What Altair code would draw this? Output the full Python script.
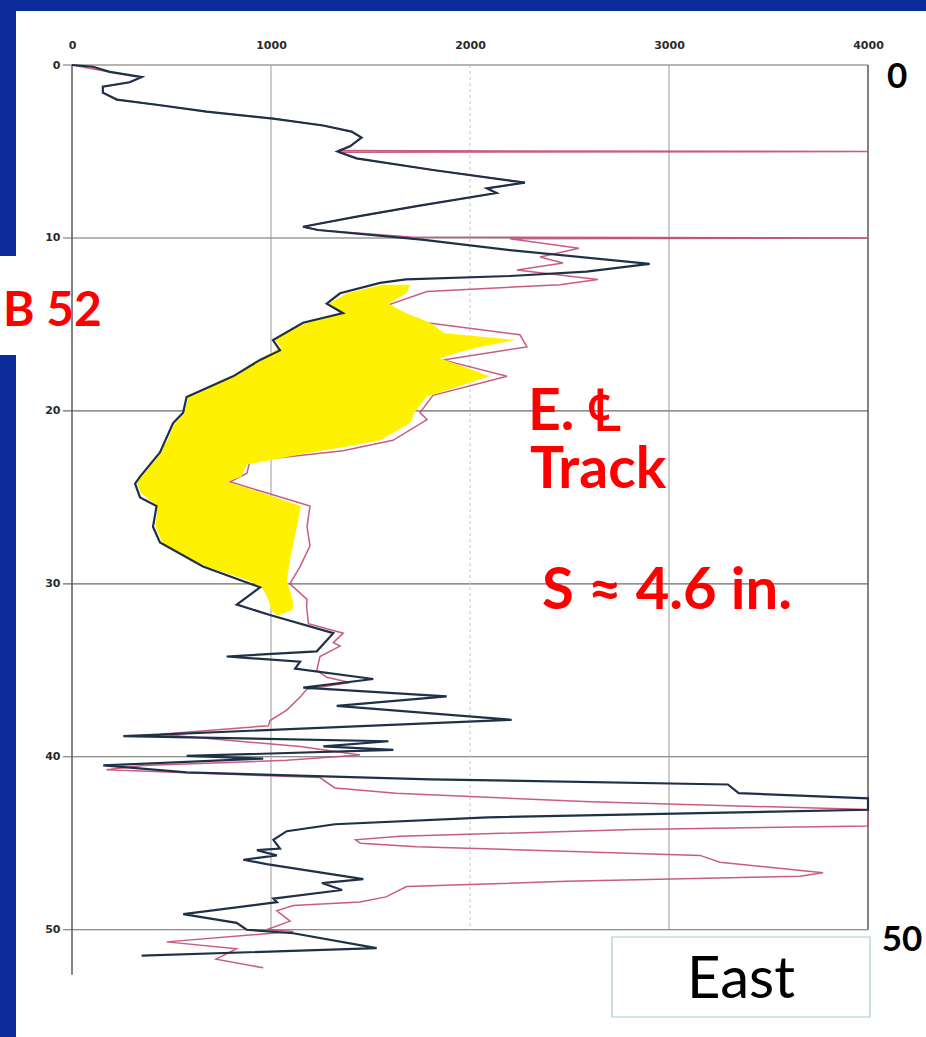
import altair as alt
import pandas as pd

# Cone tip resistance with depth, after (dark) and before (pink) soundings
after_depth = [0.0, 0.1, 0.4, 0.7, 1.0, 1.25, 1.6, 2.0, 2.3, 2.7, 3.1, 3.5, 3.85, 4.2, 4.7,
               5.0, 5.4, 6.07, 6.8, 7.13, 7.4, 8.15, 8.77, 9.35, 9.54, 10.1, 10.7, 11.5,
               11.95, 12.2, 12.4, 12.6, 13.2, 13.8, 14.35, 14.9, 15.9, 16.5, 17.05, 18.0,
               19.2, 20.1, 20.7, 22.4, 23.8, 24.2, 25.0, 25.5, 26.7, 27.6, 29.0, 30.2,
               31.2, 31.8, 32.85, 33.9, 34.2, 34.5, 34.9, 35.5, 36.0, 36.5, 37.05, 37.86,
               38.8, 39.1, 39.4, 39.6, 39.95, 40.1, 40.5, 40.9, 41.3, 41.6, 42.1, 42.4,
               43.06, 43.5, 43.9, 44.3, 44.8, 45.3, 45.4, 45.7, 45.95, 46.2, 47.07, 47.3,
               47.7, 48.2, 48.4, 49.1, 49.6, 50.0, 50.2, 51.06, 51.5]
after_q = [0, 105, 190, 350, 290, 155, 155, 225, 425, 677, 1010, 1262, 1405, 1455, 1397,
           1334, 1430, 1814, 2276, 2085, 2133, 1739, 1430, 1161, 1236, 1758, 2201, 2903,
           2585, 2201, 1678, 1548, 1347, 1280, 1362, 1161, 1010, 1045, 945, 809,
           576, 558, 508, 442, 342, 317, 342, 425, 407, 442, 658, 945,
           828, 995, 1313, 1230, 777, 1146, 1121, 1514, 1162, 1883, 1330, 2209,
           258, 1590, 1263, 1615, 576, 961, 157, 576, 1800, 3296, 3350, 4000,
           4000, 2090, 1321, 1079, 1012, 1045, 929, 1029, 861, 978, 1464, 1256,
           1357, 1012, 1030, 559, 827, 878, 1112, 1531, 350]

before_depth = [0.0, 0.4, 0.7, 1.0, 1.25, 1.6, 2.0, 2.3, 2.7, 3.1, 3.5, 3.85, 4.2, 4.7,
                4.95, 5.0, 5.05, 5.4, 6.07, 6.8, 7.13, 7.4, 8.15, 8.77, 9.35, 9.54, 9.95,
                10.0, 10.05, 10.6, 11.1, 11.45, 11.85, 12.4, 12.7, 13.1, 13.9, 14.35,
                14.9, 15.6, 16.3, 17.05, 18.0, 19.1, 20.1, 20.5, 21.7, 22.3, 22.9, 23.6,
                24.1, 24.75, 25.5, 26.7, 27.8, 29.0, 30.0, 30.9, 31.3, 32.3, 32.85, 33.4,
                33.6, 34.2, 35.0, 35.4, 35.7, 36.1, 36.5, 37.3, 37.9, 38.2, 38.7, 39.4,
                39.9, 40.2, 40.5, 40.75, 41.2, 41.8, 42.1, 42.6, 43.05, 44.0, 44.2, 44.6,
                44.8, 45.0, 45.2, 45.7, 46.1, 46.7, 46.9, 47.2, 47.5, 48.1, 48.4, 48.6,
                48.9, 49.5, 50.0, 50.1, 50.7, 51.1, 51.7, 52.2]
before_q = [0, 190, 350, 290, 155, 155, 225, 425, 677, 1010, 1262, 1405, 1455, 1397,
            1340, 4000, 1340, 1430, 1814, 2276, 2085, 2133, 1739, 1430, 1161, 1236, 1700,
            4000, 2200, 2548, 2352, 2467, 2236, 2643, 2452, 1784, 1583, 1663,
            1784, 2251, 2286, 1864, 2186, 1814, 1749, 1784, 1613, 1362, 894, 879,
            794, 980, 1196, 1181, 1196, 1146, 1095, 1181, 1179, 1188, 1363, 1313,
            1347, 1246, 1230, 1280, 1397, 1179, 1150, 1079, 995, 987, 442, 1146,
            1447, 1079, 358, 173, 1246, 1321, 1628, 2603, 4000, 4000, 2820, 1648,
            1425, 1450, 1733, 3156, 3256, 3774, 3658, 2487, 1681, 1578, 1447, 1112,
            1029, 1096, 978, 1112, 476, 827, 724, 961]

# Shaded zone between the two soundings
zone_depth = [12.7, 13.2, 13.8, 14.35, 14.9, 15.5, 15.9, 16.3, 16.6, 16.95, 18.0, 19.2,
              20.1, 20.7, 21.7, 22.1, 22.4, 23.1, 23.8, 24.1, 24.75, 25.5, 26.7, 27.8,
              29.0, 29.8, 30.2, 31.0, 31.5, 31.8]
zone_left = [1560, 1380, 1290, 1370, 1180, 1060, 1020, 1050, 1010, 950, 815, 585,
             565, 515, 480, 460, 450, 400, 350, 325, 345, 430, 420, 460,
             675, 885, 955, 990, 1000, 1030]
zone_right = [1700, 1680, 1590, 1680, 1800, 1870, 2230, 2050, 1950, 1850, 2100, 1780,
              1720, 1700, 1550, 1360, 1200, 880, 850, 780, 960, 1150, 1130, 1110,
              1090, 1080, 1090, 1110, 1110, 1040]

x_ticks = [0, 1000, 2000, 3000, 4000]
y_ticks = [0, 10, 20, 30, 40, 50]
h_grid = [0, 10, 20, 30, 40, 50]

W, H = 796, 972
xs = alt.Scale(domain=[0, 4000], nice=False, zero=False)
ys = alt.Scale(domain=[0, 56.2], nice=False, zero=False, reverse=True)

x_axis = alt.Axis(orient="top", values=x_ticks, format="d", labelFont="DejaVu Sans",
                  labelFontSize=11, labelFontWeight="bold", labelColor="#2b2b2b",
                  labelPadding=15, labelFlush=False, labelOverlap=False,
                  domain=False, ticks=False, grid=False, title=None, zindex=3)
y_axis = alt.Axis(orient="left", values=y_ticks, format="d", labelFont="DejaVu Sans",
                  labelFontSize=11, labelFontWeight="bold", labelColor="#2b2b2b",
                  labelPadding=12, labelFlush=False, labelOverlap=False,
                  domain=False, ticks=False, grid=False, title=None, zindex=3)


def X(field="q"):
    return alt.X(f"{field}:Q", scale=xs, axis=x_axis)


def Y(field="depth"):
    return alt.Y(f"{field}:Q", scale=ys, axis=y_axis)


one = pd.DataFrame({"k": [0]})

# white sheet on the slide
sheet = alt.Chart(one).mark_rect(color="white").encode(
    x=alt.value(-56), x2=alt.value(854), y=alt.value(-54), y2=alt.value(972))
tag_back = alt.Chart(one).mark_rect(color="white").encode(
    x=alt.value(-72), x2=alt.value(-40), y=alt.value(191), y2=alt.value(290))

hg = pd.DataFrame({"depth": h_grid, "q": [-45] * len(h_grid), "q2": [4000] * len(h_grid)})
h_rules = alt.Chart(hg).mark_rule(color="#6a6a6a", strokeWidth=1.1).encode(
    x=X(), x2="q2:Q", y=Y())

v_mid = alt.Chart(pd.DataFrame({"q": [1000, 3000], "depth": [0, 0], "d2": [50, 50]})).mark_rule(
    color="#9a9a9a", strokeWidth=1).encode(x=X(), y=Y(), y2="d2:Q")
v_light = alt.Chart(pd.DataFrame({"q": [2000], "depth": [0], "d2": [50]})).mark_rule(
    color="#c4c4c4", strokeWidth=1, strokeDash=[3, 3]).encode(x=X(), y=Y(), y2="d2:Q")
v_frame = alt.Chart(pd.DataFrame({"q": [0, 4000], "depth": [0, 0], "d2": [52.6, 50]})).mark_rule(
    color="#5a5a5a", strokeWidth=1.5).encode(x=X(), y=Y(), y2="d2:Q")

before = pd.DataFrame({"q": before_q, "depth": before_depth, "i": range(len(before_q))})
after = pd.DataFrame({"q": after_q, "depth": after_depth, "i": range(len(after_q))})
zone = pd.DataFrame({"depth": zone_depth, "q": zone_left, "q2": zone_right})

before_line = alt.Chart(before).mark_line(color="#c24a76", strokeWidth=1.5, opacity=0.9).encode(
    x=X(), y=Y(), order="i:Q")
zone_area = alt.Chart(zone).mark_area(orient="horizontal", color="#fff200", opacity=1,
                                      interpolate="linear").encode(
    y=Y(), x=X(), x2="q2:Q")
after_line = alt.Chart(after).mark_line(color="#1f3049", strokeWidth=2.2).encode(
    x=X(), y=Y(), order="i:Q")

# centre-line note, two lines set close together
track_note = alt.Chart(pd.DataFrame({
    "q": [2291, 2301], "depth": [21.1, 24.45], "label": ["E. \u2104", "Track"],
})).mark_text(align="left", baseline="alphabetic", font="Lato", fontSize=57,
              fontWeight="bold", color="#ff0000").encode(
    x=X(), y=Y(), text="label:N")

settle_note = alt.Chart(pd.DataFrame({
    "q": [2362], "depth": [31.45], "label": ["S \u2248 4.6 in."],
})).mark_text(align="left", baseline="alphabetic", font="Lato", fontSize=58,
              fontWeight="bold", color="#ff0000").encode(x=X(), y=Y(), text="label:N")

red_tag = alt.Chart(pd.DataFrame({"q": [-347], "depth": [15.1], "label": ["B 52"]})).mark_text(
    align="left", baseline="alphabetic", font="Lato", fontSize=48, fontWeight="bold",
    color="#ff0000").encode(x=X(), y=Y(), text="label:N")

depth_marks = alt.Chart(pd.DataFrame({"q": [4146, 4171], "depth": [1.33, 51.2],
                                      "label": ["0", "50"]})).mark_text(
    align="center", baseline="alphabetic", font="Lato", fontSize=35, fontWeight="bold",
    color="#000000").encode(x=X(), y=Y(), text="label:N")

east_box = alt.Chart(one).mark_rect(fill="white", stroke="#a6cdd4", strokeWidth=1.2).encode(
    x=alt.value(540), x2=alt.value(798), y=alt.value(872), y2=alt.value(952))
east_text = alt.Chart(one).mark_text(align="center", baseline="alphabetic", font="Lato",
                                     fontSize=58, color="#000000", text="East").encode(
    x=alt.value(669), y=alt.value(933))

chart = alt.layer(
    sheet, tag_back, h_rules, v_light, v_mid, v_frame, before_line, zone_area, after_line,
    track_note, settle_note, red_tag, depth_marks, east_box, east_text,
).properties(
    width=W, height=H,
    background="#0c2c9c",
    padding={"left": 72, "top": 65, "right": 58, "bottom": 0},
    autosize=alt.AutoSizeParams(type="none"),
).configure_view(stroke=None)

chart.save("out.html", embed_options={"renderer": "svg", "actions": False})
